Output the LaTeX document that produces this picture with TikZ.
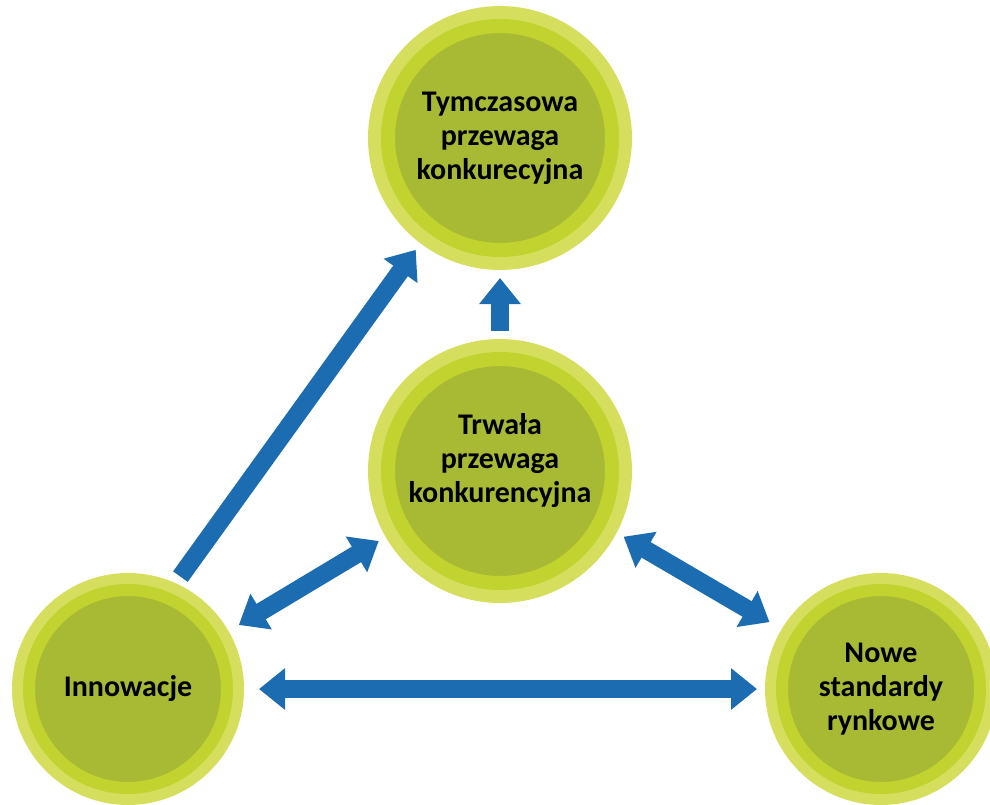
\documentclass[tikz,border=0pt]{standalone}
\usepackage{fontspec}
\setmainfont{Carlito}
\usetikzlibrary{arrows.meta}
\definecolor{greenouter}{RGB}{214,222,94}
\definecolor{greenmid}{RGB}{193,211,46}
\definecolor{greeninner}{RGB}{168,186,52}
\definecolor{arrowblue}{RGB}{28,108,178}
\tikzset{
  bubble/.style={circle, inner sep=0pt, fill=greeninner, draw=greenmid,
    align=center, font=\fontsize{30}{34}\selectfont\bfseries},
  bigbubble/.style={bubble, minimum size=224pt, line width=14pt, outer sep=28pt,
    preaction={draw=greenouter, line width=40pt}},
  smallbubble/.style={bubble, minimum size=198pt, line width=12pt, outer sep=25pt,
    preaction={draw=greenouter, line width=34pt}},
  tip/.tip={Triangle[width=40pt,length=26pt]},
  link/.style={draw=arrowblue, line width=18pt, -tip},
  twoway/.style={link, tip-tip}
}

\begin{document}
\begin{tikzpicture}[x=1pt, y=-1pt]
  \useasboundingbox (0,0) rectangle (990,805);

  \node[bigbubble] (tymcz) at (500,138) {Tymczasowa\\przewaga\\konkurecyjna};
  \node[bigbubble, text depth=26pt] (trwala) at (500,471) {Trwała\\przewaga\\konkurencyjna};
  \node[smallbubble] (innow) at (128,689) {Innowacje};
  \node[smallbubble] (nowe) at (881,689) {Nowe\\standardy\\rynkowe};

  % arrows
  \draw[link] (innow.65) -- (tymcz.233);
  \draw[link] (trwala.90) -- (tymcz.270);
  \draw[twoway, shorten <=4pt] (innow.30) -- (trwala.210);
  \draw[twoway, shorten >=6pt] (trwala.-28) -- (nowe.149);
  \draw[twoway, shorten <=7pt] (innow.0) -- (nowe.180);
\end{tikzpicture}
\end{document}
